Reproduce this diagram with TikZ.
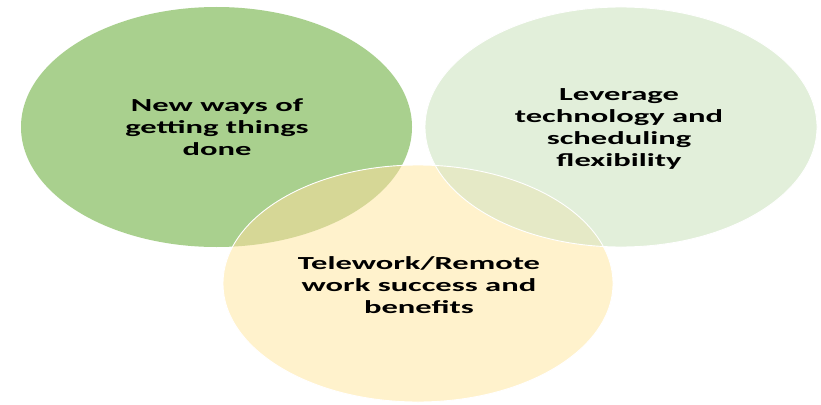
\documentclass[tikz,border=0pt]{standalone}
\usepackage{fontspec}
\usepackage{graphicx}
\setmainfont{Carlito}
\definecolor{cL}{RGB}{169,208,142}
\definecolor{cR}{RGB}{226,239,218}
\definecolor{cY}{RGB}{255,242,204}
\definecolor{cLY}{RGB}{214,215,150}
\definecolor{cRY}{RGB}{229,233,198}
\newcommand{\vtext}[1]{\scalebox{1.77}[1]{\fontsize{18.4}{22.3}\selectfont\bfseries\begin{tabular}{@{}c@{}}#1\end{tabular}}}
\tikzset{
  lbl/.style={inner sep=0pt, text=black},
  rim/.style={draw=white, line width=0.9pt}
}
\begin{document}
\begin{tikzpicture}[x=1pt,y=-1pt]
\useasboundingbox (0,0) rectangle (821,404);
\fill[white] (0,0) rectangle (821,404);
% base fills
\fill[cL] (216.5,127) ellipse [x radius=195.5, y radius=120];
\fill[cR] (621,127) ellipse [x radius=196, y radius=120];
\fill[cY] (418,283.5) ellipse [x radius=195, y radius=118.5];
% overlaps
\begin{scope}
  \clip (216.5,127) ellipse [x radius=195.5, y radius=120];
  \fill[cLY] (418,283.5) ellipse [x radius=195, y radius=118.5];
\end{scope}
\begin{scope}
  \clip (621,127) ellipse [x radius=196, y radius=120];
  \fill[cRY] (418,283.5) ellipse [x radius=195, y radius=118.5];
\end{scope}
% rims
\draw[rim] (418,283.5) ellipse [x radius=195, y radius=118.5];
\draw[rim] (621,127) ellipse [x radius=196, y radius=120];
% labels
\node[lbl] (tL) at (217,129) {\vtext{New ways of\\getting things\\done}};
\node[lbl] (tR) at (619,129) {\vtext{Leverage\\technology and\\scheduling\\flexibility}};
\node[lbl] (tY) at (419,287) {\vtext{Telework/Remote\\work success and\\benefits}};
\end{tikzpicture}
\end{document}
